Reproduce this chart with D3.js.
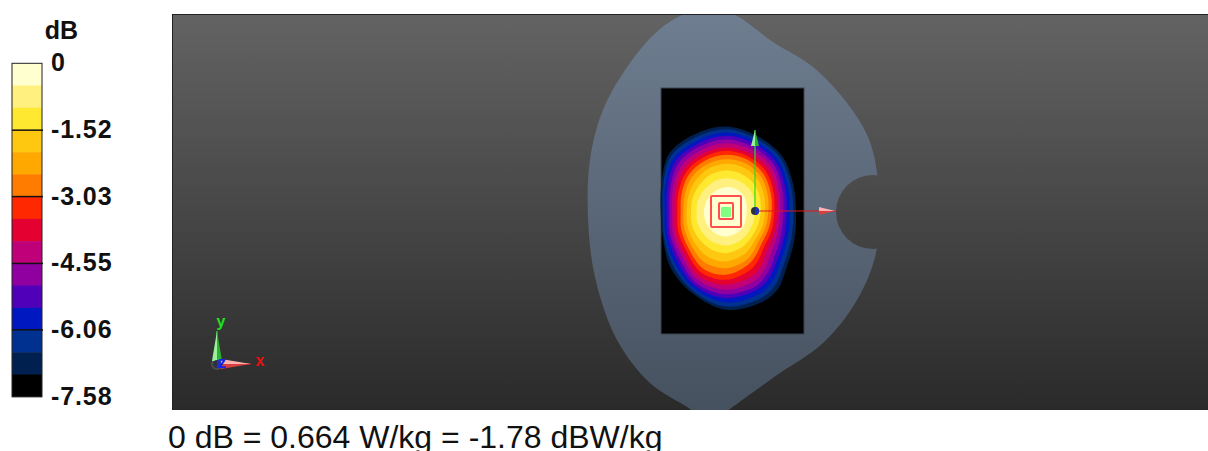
<!DOCTYPE html>
<html><head><meta charset="utf-8">
<script src="https://cdn.jsdelivr.net/npm/d3@7"></script>
<style>html,body{margin:0;padding:0;background:#fff;overflow:hidden}svg{display:block}</style>
</head><body><svg id="c" width="1208" height="451"></svg>
<script>
// legend
const legendColors=["#ffffd0","#fff080","#ffe830","#ffc810","#ffa800","#ff7c00","#ff2800","#e40030","#c00078","#9000a0","#5000b8","#0018c0","#003090","#002050","#000000"];
const legendTicks=[0,-1.52,-3.03,-4.55,-6.06,-7.58];
const legendLabels=["0","-1.52","-3.03","-4.55","-6.06","-7.58"];
const caption="0 dB = 0.664 W/kg = -1.78 dBW/kg";
// phantom outline, plot units
const bodyX=[488,515,540,563,601,641,675,696,705,705,685,651,605,558,545,530,518,478,445,423,416,418,431,458];
const bodyY=[14,-2,-6,0,27,52,88,122,158,233,285,328,360,394,404,404,394,368,325,262,202,145,95,48];
// measurement area and peak cubes, plot units
const areaX=[489,632], areaY=[73,319];
const cube10=[539,181,30,31], cube1=[547,188,14,16], peak=[549,192,10,10];
const peakCentre=[554,196.5];
// contour radii by direction, one row per direction, 14 level edges
const angles=[0,22.5,45,67.5,90,112.5,135,157.5,180,202.5,225,247.5,270,292.5,303.75,315,337.5];
const radii=[
[62,87,104,117,127,137,145,154,162,172,182,192,202,210],
[66,92,110,124,135,145,154,163,172,182,192,201,210,218],
[72,98,118,135,148,159,170,180,191,201,211,220,229,237],
[74,100,122,142,156,168,178,188,200,210,220,229,237,245],
[73,100,123,143,157,170,182,192,205,217,227,237,247,255],
[70,97,120,139,153,165,176,186,198,210,220,230,240,250],
[68,92,112,130,145,157,168,179,191,203,214,224,234,243],
[66,90,108,122,134,144,154,163,172,181,190,198,204,210],
[66,88,105,118,128,136,146,154,162,170,178,184,190,196],
[68,92,110,124,135,145,155,164,172,181,189,196,201,205],
[70,95,115,133,146,158,168,178,188,198,208,218,227,236],
[74,100,122,146,166,184,197,210,222,233,242,250,258,265],
[75,102,125,150,170,190,205,220,235,248,260,273,285,295],
[72,98,118,140,158,173,190,208,225,240,252,266,280,292],
[71,95,113,131,146,160,175,192,208,223,236,251,266,280],
[70,92,108,122,134,146,158,171,187,201,214,227,240,252],
[64,88,104,118,128,138,148,158,168,179,190,201,212,222]];

const svg=d3.select("#c");
const x=d3.scaleLinear([0,1036],[172,1208]);
const y=d3.scaleLinear([0,395],[15,410]);
const rScale=d3.scaleLinear([0,300],[0,100]);
const defs=svg.append("defs");
function grad(id,c0,c1){const g=defs.append("linearGradient").attr("id",id).attr("gradientUnits","userSpaceOnUse").attr("x1",0).attr("x2",0).attr("y1",y(0)).attr("y2",y(395));
 g.append("stop").attr("offset",0).attr("stop-color",c0);g.append("stop").attr("offset",1).attr("stop-color",c1);}
grad("bg","#636363","#2a2a2a");grad("bd","#6e7d90","#46515f");
defs.append("clipPath").attr("id","pc").append("rect").attr("x",x(0)).attr("y",y(0)).attr("width",x(1036)-x(0)).attr("height",y(395)-y(0));

// plot background
svg.append("rect").attr("x",x(0)).attr("y",y(0)).attr("width",x(1036)-x(0)).attr("height",y(395)-y(0)).attr("fill","url(#bg)");

const plot=svg.append("g").attr("clip-path","url(#pc)");
plot.append("path").attr("d",d3.line().x(d=>x(d[0])).y(d=>y(d[1])).curve(d3.curveCatmullRomClosed.alpha(.5))(d3.zip(bodyX,bodyY))).attr("fill","url(#bd)");
plot.append("circle").attr("cx",x(701)).attr("cy",y(197)).attr("r",37).attr("fill","url(#bg)");
svg.append("line").attr("x1",x(0)).attr("x2",x(1036)).attr("y1",14.5).attr("y2",14.5).attr("stroke","#222");
svg.append("line").attr("x1",x(0)+.5).attr("x2",x(0)+.5).attr("y1",14).attr("y2",y(395)).attr("stroke","#222");

// measurement area
plot.append("rect").attr("x",x(areaX[0])).attr("y",y(areaY[0])).attr("width",x(areaX[1])-x(areaX[0])).attr("height",y(areaY[1])-y(areaY[0])).attr("fill","#000").attr("stroke","#3a4450").attr("stroke-width",1);

// contours, outermost first
const cx=x(peakCentre[0]),cy=y(peakCentre[1]);
const radial=d3.lineRadial().curve(d3.curveCatmullRomClosed.alpha(.5));
const levels=d3.range(13,-1,-1);
const field=plot.append("g").attr("transform",`translate(${cx},${cy})`);
field.selectAll("path").data(levels).join("path")
 .attr("d",l=>radial(angles.map((a,i)=>[(90-a)*Math.PI/180,rScale(radii[i][l])])))
 .attr("fill",l=>legendColors[l]);

// cubes
const sq=(s,fill,stroke)=>plot.append("rect").attr("x",x(s[0])).attr("y",y(s[1])).attr("width",x(s[0]+s[2])-x(s[0])).attr("height",y(s[1]+s[3])-y(s[1])).attr("rx",1).attr("fill",fill).attr("stroke",stroke).attr("stroke-width",stroke==="none"?0:2);
sq(cube10,"none","#ff5050");sq(cube1,"none","#ff5050");sq(peak,"#80ff80","none");

// coordinate triads
function triad(ox,oy,lx,ly,cs,hw,r,halo){
 const g=plot.append("g");
 if(halo) g.append("circle").attr("cx",x(ox)).attr("cy",y(oy)).attr("r",halo).attr("fill","#707070").attr("opacity",.45);
 const tri=(pts,f,o)=>g.append("path").attr("d",d3.line()(pts.map(p=>[x(p[0]),y(p[1])]))+"Z").attr("fill",f).attr("opacity",o||1);
 g.append("line").attr("x1",x(ox)).attr("y1",y(oy)).attr("x2",x(ox)).attr("y2",y(oy-ly)).attr("stroke","#20e020").attr("stroke-width",1.2);
 g.append("line").attr("x1",x(ox)).attr("y1",y(oy)).attr("x2",x(ox+lx)).attr("y2",y(oy)).attr("stroke","#e01818").attr("stroke-width",1.2);
 tri([[ox-hw,oy-ly+cs],[ox,oy-ly],[ox,oy-ly+cs]],"#9cf09c");
 tri([[ox,oy-ly+cs],[ox,oy-ly],[ox+hw,oy-ly+cs]],"#30b030");
 tri([[ox+lx-cs,oy-hw],[ox+lx,oy],[ox+lx-cs,oy]],"#ffb0b0");
 tri([[ox+lx-cs,oy],[ox+lx,oy],[ox+lx-cs,oy+hw]],"#d84040");
 g.append("circle").attr("cx",x(ox)).attr("cy",y(oy)).attr("r",r).attr("fill","#2c3240");
 g.append("path").attr("d",d3.arc()({innerRadius:0,outerRadius:r,startAngle:0,endAngle:Math.PI})).attr("transform",`translate(${x(ox)},${y(oy)})`).attr("fill","#2030c0");
}
triad(583,196,80,81,16,4,4);
triad(45,349,34,33,30,5,4,6);
const lab=(t,px,py,c)=>plot.append("text").attr("x",x(px)).attr("y",y(py)).attr("fill",c).attr("font-family","Liberation Sans").attr("font-weight","bold").attr("font-size",16).attr("text-anchor","middle").text(t);
lab("y",49,312,"#20e020");lab("x",88,351,"#e81010");lab("z",50,353,"#1020f0");

// legend bands
const band=d3.scaleBand().domain(d3.range(legendColors.length)).range([63.3,396.7]);
svg.append("g").selectAll("rect").data(legendColors).join("rect")
 .attr("x",12).attr("width",30).attr("y",(d,i)=>band(i)).attr("height",band.bandwidth()+.5).attr("fill",d=>d);
svg.append("rect").attr("x",12).attr("y",63.3).attr("width",30).attr("height",333.4).attr("fill","none").attr("stroke","#222").attr("stroke-width",1);
const ly=d3.scaleLinear([0,-7.58],[63.3,396.7]);
const axis=svg.append("g").attr("transform","translate(42,0)")
 .call(d3.axisRight(ly).tickValues(legendTicks).tickSize(0).tickPadding(9).tickFormat((d,i)=>legendLabels[i]));
axis.select(".domain").remove();
axis.selectAll("text").attr("font-family","Liberation Sans").attr("font-weight","bold").attr("font-size",25).attr("fill","#111").attr("letter-spacing",.9).attr("dy",7.5);
svg.append("g").selectAll("line").data(legendTicks.slice(1,5)).join("line")
 .attr("x1",12).attr("x2",43).attr("y1",d=>ly(d)).attr("y2",d=>ly(d)).attr("stroke","#111").attr("stroke-width",1.5);
svg.append("text").attr("x",61.5).attr("y",39).attr("text-anchor","middle").attr("font-family","Liberation Sans").attr("font-weight","bold").attr("font-size",25).attr("fill","#111").text("dB");
svg.append("text").attr("x",168).attr("y",448).attr("font-family","Liberation Sans").attr("font-size",32).attr("fill","#111").text(caption);
</script></body></html>
